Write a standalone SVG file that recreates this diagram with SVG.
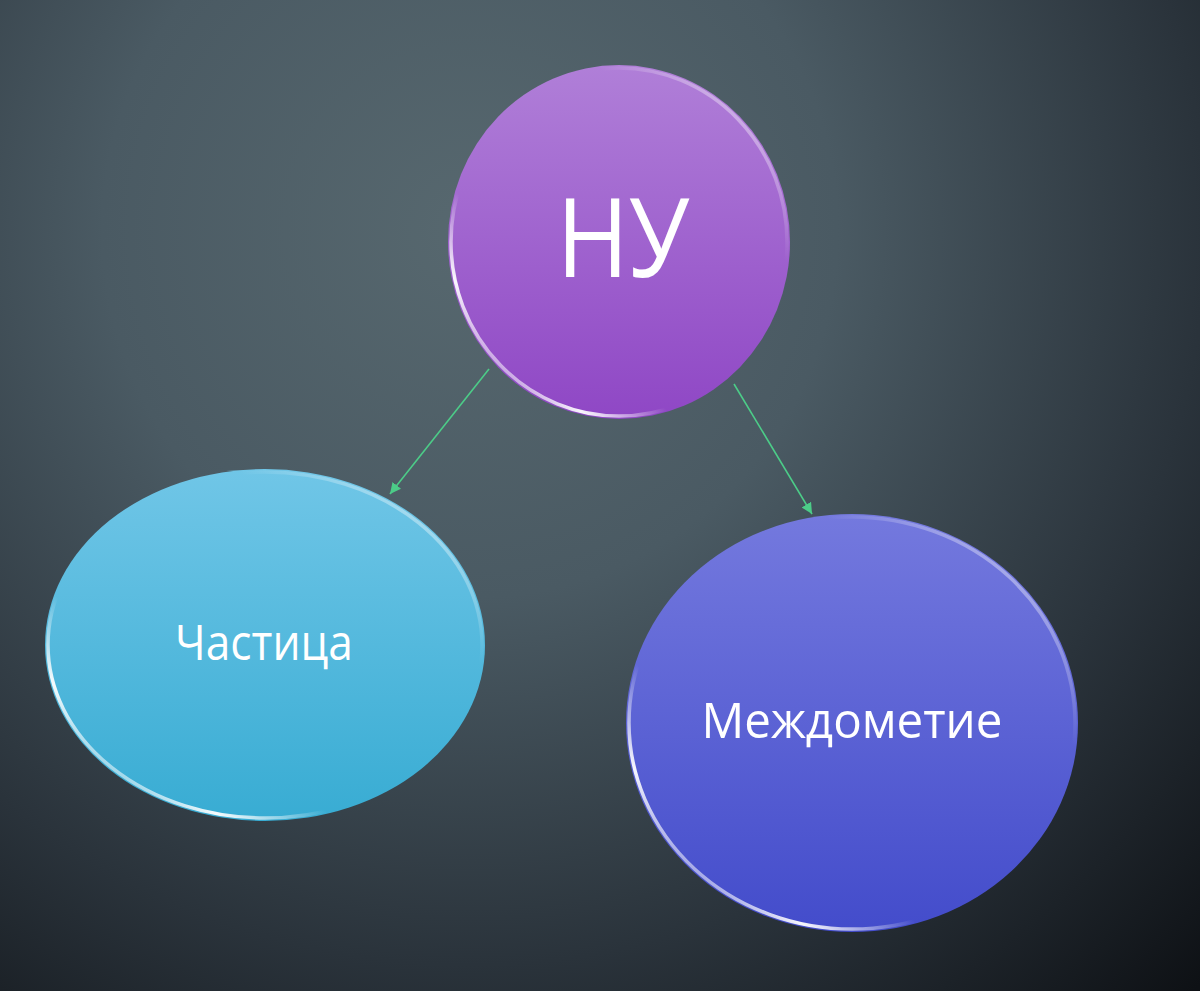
<svg xmlns="http://www.w3.org/2000/svg" width="1200" height="991" viewBox="0 0 1200 991">
  <defs>
    <radialGradient id="bg" gradientUnits="userSpaceOnUse" cx="470" cy="230" r="1050">
      <stop offset="0" stop-color="#57686f"/>
      <stop offset="0.35" stop-color="#4a5a63"/>
      <stop offset="0.7" stop-color="#2a333b"/>
      <stop offset="1" stop-color="#0e1115"/>
    </radialGradient>
    <linearGradient id="gPurple" x1="0" y1="0" x2="0" y2="1">
      <stop offset="0" stop-color="#b07fd8"/>
      <stop offset="1" stop-color="#8f47c5"/>
    </linearGradient>
    <linearGradient id="gCyan" x1="0" y1="0" x2="0" y2="1">
      <stop offset="0" stop-color="#70c6e7"/>
      <stop offset="1" stop-color="#38acd3"/>
    </linearGradient>
    <linearGradient id="gBlue" x1="0" y1="0" x2="0" y2="1">
      <stop offset="0" stop-color="#7479de"/>
      <stop offset="1" stop-color="#434ccb"/>
    </linearGradient>
    <linearGradient id="rim" x1="0" y1="1" x2="1" y2="0">
      <stop offset="0.08" stop-color="#ffffff" stop-opacity="0"/>
      <stop offset="0.2" stop-color="#ffffff" stop-opacity="0.95"/>
      <stop offset="0.33" stop-color="#ffffff" stop-opacity="0"/>
      <stop offset="0.72" stop-color="#ffffff" stop-opacity="0"/>
      <stop offset="0.88" stop-color="#ffffff" stop-opacity="0.45"/>
      <stop offset="1" stop-color="#ffffff" stop-opacity="0.1"/>
    </linearGradient>
    <marker id="arrow" viewBox="0 0 10 10" refX="10" refY="5" markerWidth="11" markerHeight="11" markerUnits="userSpaceOnUse" orient="auto">
      <path d="M0,0 L10,5 L0,10 z" fill="#4ccc88"/>
    </marker>
    <style>
      .lbl { font-family: "Open Sans", "Noto Sans", "DejaVu Sans", sans-serif; fill: #ffffff; text-anchor: middle; }
      .rim { fill: none; stroke: url(#rim); stroke-width: 3.5; }
      .conn { stroke: #4ccc88; stroke-width: 1.6; fill: none; }
    </style>
  </defs>
  <rect x="0" y="0" width="1200" height="991" fill="url(#bg)"/>

  <g id="connectors">
    <line class="conn" x1="489" y1="369" x2="390" y2="494" marker-end="url(#arrow)"/>
    <line class="conn" x1="734" y1="384" x2="812" y2="514" marker-end="url(#arrow)"/>
  </g>

  <g id="node-nu">
    <ellipse cx="619" cy="242" rx="171" ry="177" fill="url(#gPurple)"/>
    <ellipse class="rim" cx="619" cy="242" rx="168" ry="174"/>
    <text class="lbl" x="623" y="277" font-size="110" textLength="133" lengthAdjust="spacingAndGlyphs">НУ</text>
  </g>

  <g id="node-chastitsa">
    <ellipse cx="265" cy="645" rx="220" ry="176" fill="url(#gCyan)"/>
    <ellipse class="rim" cx="265" cy="645" rx="217" ry="173"/>
    <text class="lbl" x="264" y="660" font-size="49" textLength="178" lengthAdjust="spacingAndGlyphs">Частица</text>
  </g>

  <g id="node-mezhdometie">
    <ellipse cx="852" cy="723" rx="226" ry="209" fill="url(#gBlue)"/>
    <ellipse class="rim" cx="852" cy="723" rx="223" ry="206"/>
    <text class="lbl" x="852" y="738" font-size="49" textLength="301" lengthAdjust="spacingAndGlyphs">Междометие</text>
  </g>
</svg>
